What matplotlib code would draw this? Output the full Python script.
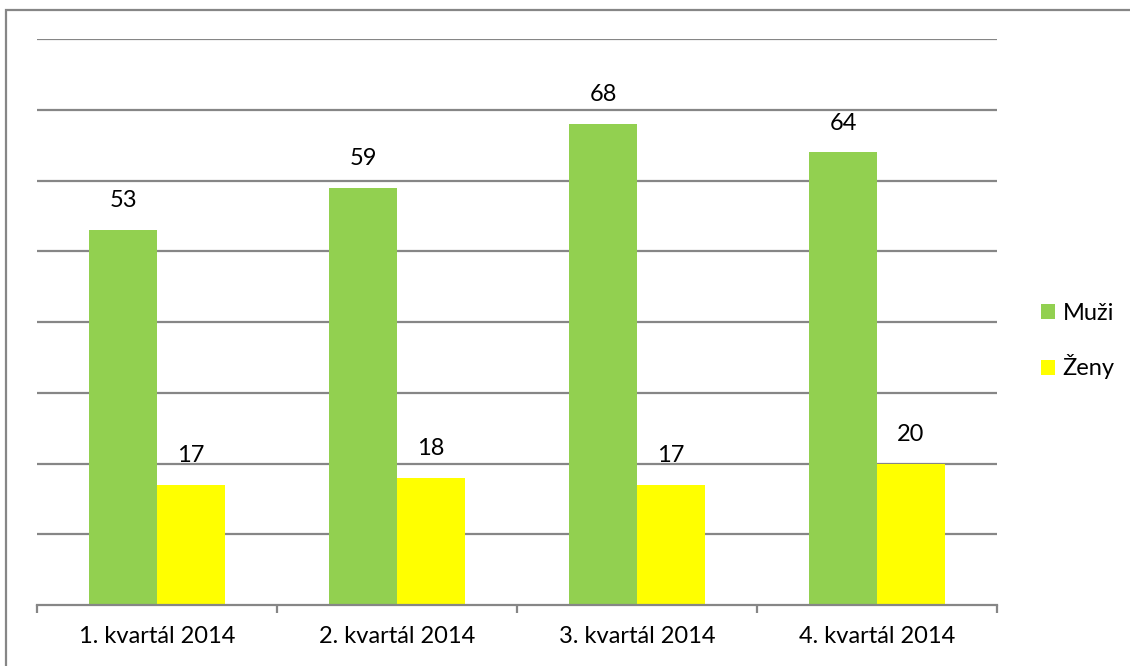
import numpy as np
import matplotlib.pyplot as plt
from matplotlib.patches import Rectangle

categories = ["1. kvartál 2014", "2. kvartál 2014", "3. kvartál 2014", "4. kvartál 2014"]
muzi = [53, 59, 68, 64]
zeny = [17, 18, 17, 20]
series_names = ["Muži", "Ženy"]

GREEN = "#92D050"
YELLOW = "#FFFF00"
GRID = "#868686"
FS = 17

plt.rcParams["font.family"] = ["Lato", "DejaVu Sans"]

fig = plt.figure(figsize=(11.3, 6.66), dpi=100)
ax = fig.add_axes([37 / 1130, 1 - 605 / 666, 960 / 1130, 566 / 666])

x = np.arange(len(categories))
w = 0.283
b1 = ax.bar(x - w / 2, muzi, w, color=GREEN, label=series_names[0])
b2 = ax.bar(x + w / 2, zeny, w, color=YELLOW, label=series_names[1])

for bars, vals in ((b1, muzi), (b2, zeny)):
    for r, v in zip(bars, vals):
        ax.annotate(str(v), (r.get_x() + r.get_width() / 2, v),
                    xytext=(0, 21), textcoords="offset points",
                    ha="center", va="center", fontsize=FS)

ax.set_xlim(-0.5, len(categories) - 0.5)
ax.set_ylim(0, 80)
ax.set_yticks(np.arange(10, 81, 10))
ax.yaxis.grid(True, color=GRID, linewidth=1.6)
ax.set_axisbelow(True)
ax.tick_params(axis="y", length=0, labelleft=False)

ax.set_xticks(x)
ax.set_xticklabels(categories, fontsize=FS)
ax.tick_params(axis="x", length=0, pad=15)
ax.set_xticks(np.arange(-0.5, len(categories)), minor=True)
ax.tick_params(axis="x", which="minor", length=6, width=1.6, color=GRID)

for s in ("top", "right", "left"):
    ax.spines[s].set_visible(False)
ax.spines["bottom"].set_color(GRID)
ax.spines["bottom"].set_linewidth(1.6)

leg = fig.legend(handles=[b1, b2], loc="center left",
                 bbox_to_anchor=(1020 / 1130, 1 - 341 / 666),
                 frameon=False, fontsize=FS, handlelength=0.6, handleheight=0.6,
                 handletextpad=0.3, labelspacing=1.3)

fig.patches.append(Rectangle((6 / 1130, -0.1), 1.2, (1 - 10 / 666) + 0.1,
                             transform=fig.transFigure, fill=False,
                             edgecolor=GRID, linewidth=1.6))

fig.savefig("out.png", dpi=100)
